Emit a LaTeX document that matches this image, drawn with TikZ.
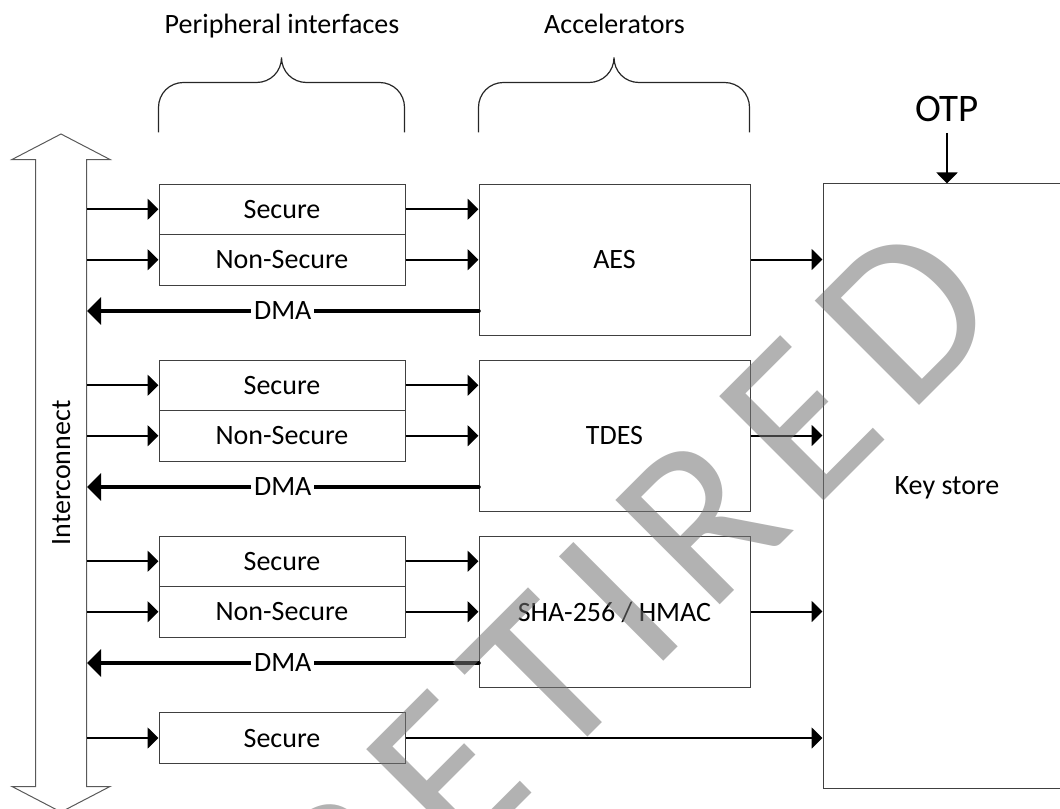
\documentclass[tikz,border=0pt]{standalone}
\usepackage{fontspec}
\setmainfont{Carlito}
\newfontfamily\stampfont[LetterSpace=10]{Carlito}
\usetikzlibrary{arrows.meta,shapes.arrows}
\tikzset{box/.style={draw=black!75,line width=1bp,text depth=0pt,inner sep=0pt},
         periph/.style={box,minimum width=246bp,minimum height=50.5bp},
         accel/.style={box,minimum width=271bp,minimum height=151bp},
         conn/.style={line width=2bp,-{Triangle[length=11bp,width=21bp]}},
         dmaline/.style={line width=4.5bp,line cap=round,-{Triangle[length=14bp,width=27bp]}},
         dmatag/.style={fill=white,inner xsep=3bp,inner ysep=1bp},
         curly/.style={line width=1.2bp,black!85},
         stamp/.style={text=black!55,text opacity=.55,font=\stampfont\fontsize{230bp}{276bp}\selectfont,inner sep=0pt}
}

\begin{document}
\begin{tikzpicture}[x=1bp,y=-1bp,font=\fontsize{28bp}{33bp}\selectfont]
  \useasboundingbox (0,0) rectangle (1060,809);
  \clip (0,0) rectangle (1060,809);
  \node[draw=black!65,line width=1bp,double arrow,rotate=90,double arrow tip angle=125,
        double arrow head extend=23.5bp,minimum height=678bp,minimum width=97bp,
        inner xsep=0pt,inner ysep=16bp,text height=18bp,text depth=0pt] (bus) at (61,473) {Interconnect};
  \node[box,minimum width=248bp,minimum height=604bp] (key) at (947,486) {Key store};
  \node[anchor=base,inner sep=0pt,font=\fontsize{39bp}{47bp}\selectfont] (otp) at ([yshift=62bp]key.north) {OTP};
  \draw[conn,shorten <=11bp] (otp.south) -- (key.north);
  \foreach\acc/\ytop/\txt in {aes/184/AES,tdes/360/TDES,sha/536/{SHA-256 / HMAC}} {
     \node[periph] (sec\acc) at (282,\ytop+25.25) {Secure};
     \node[periph] (ns\acc) at (282,\ytop+75.75) {Non-Secure};
     \node[accel] (\acc) at (614.5,\ytop+75.5) {\txt};
     \draw[conn] (sec\acc.west -| bus.south) -- (sec\acc.west);
     \draw[conn] (ns\acc.west -| bus.south) -- (ns\acc.west);
     \draw[conn] (sec\acc.east) -- (sec\acc.east -| \acc.west);
     \draw[conn] (ns\acc.east) -- (ns\acc.east -| \acc.west);
     \draw[conn] (\acc.east) -- (\acc.east -| key.west);
     \coordinate (dma\acc) at ([yshift=-51.5bp]\acc.west);
     \draw[dmaline] (dma\acc) -- (dma\acc -| bus.south) node[midway,dmatag]{DMA};
  }
  \node[periph] (seclast) at (282,738) {Secure};
  \draw[conn] (seclast.west -| bus.south) -- (seclast.west);
  \draw[conn] (seclast.east) -- (seclast.east -| key.west);
  % braces over the two columns
  \foreach\n/\w in {secaes/73,aes/85.5}
    \draw[curly] ([yshift=51bp]\n.north west) -- ++(0,-25) .. controls +(0,-14) and +(-14,0) .. ++(25,-25)
      -- ++(\w,0) .. controls +(14,0) and +(0,14) .. ++(25,-25) .. controls +(0,14) and +(-14,0) .. ++(25,25)
      -- ++(\w,0) .. controls +(14,0) and +(0,-14) .. ++(25,25) -- ++(0,25);
  \node[anchor=base] (periphtitle) at ([yshift=150bp]secaes.north) {Peripheral interfaces};
  \node[anchor=base] (acceltitle) at ([yshift=150bp]aes.north) {Accelerators};
  \node[stamp,rotate=45,anchor=base west] (retired) at (355,970) {RETIRED};
\end{tikzpicture}
\end{document}
